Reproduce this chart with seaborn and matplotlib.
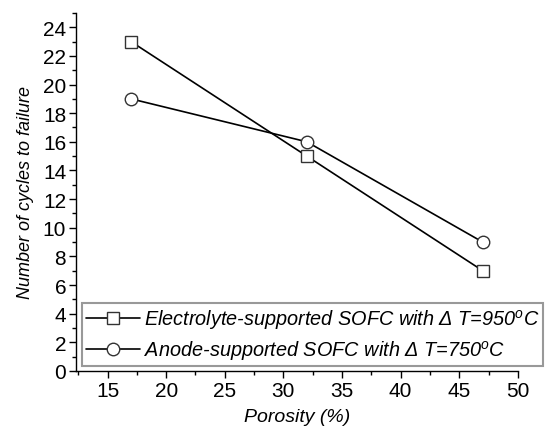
import matplotlib
matplotlib.use('Agg')
import matplotlib.pyplot as plt
import seaborn as sns
import pandas as pd
from matplotlib.ticker import MultipleLocator

sns.set_style('ticks')
plt.rcParams['font.family'] = ['Liberation Sans', 'DejaVu Sans']
plt.rcParams['mathtext.fontset'] = 'custom'
plt.rcParams['mathtext.it'] = 'Liberation Sans:italic'
plt.rcParams['mathtext.rm'] = 'Liberation Sans'
plt.rcParams['text.color'] = 'black'
plt.rcParams['axes.labelcolor'] = 'black'
plt.rcParams['xtick.color'] = 'black'
plt.rcParams['ytick.color'] = 'black'
plt.rcParams['axes.edgecolor'] = 'black'

# data
porosity = [17, 32, 47]
electrolyte_cycles = [23, 15, 7]
anode_cycles = [19, 16, 9]
series_names = ['Electrolyte-supported SOFC with \u0394 T=950$^{\\mathit{o}}$C',
                'Anode-supported SOFC with \u0394 T=750$^{\\mathit{o}}$C']

df = pd.DataFrame({
    'Porosity': porosity * 2,
    'Cycles': electrolyte_cycles + anode_cycles,
    'Series': [series_names[0]] * 3 + [series_names[1]] * 3,
})

fig = plt.figure(figsize=(5.58, 4.35), dpi=100)
ax = fig.add_axes([0.136, 0.145, 0.792, 0.823])

sns.lineplot(data=df, x='Porosity', y='Cycles', hue='Series', style='Series',
             markers=['s', 'o'], dashes=False, palette=['black', 'black'],
             markersize=9, markerfacecolor='white', markeredgecolor='#333333',
             markeredgewidth=1.0, linewidth=1.2, ax=ax)

ax.set_xlim(12.3, 50)
ax.set_ylim(0, 25)
ax.xaxis.set_minor_locator(MultipleLocator(2.5))
ax.yaxis.set_minor_locator(MultipleLocator(1))
ax.set_xticks(range(15, 51, 5))
ax.set_yticks(range(0, 25, 2))
ax.tick_params(which='major', length=5, width=1, labelsize=15, direction='out', pad=2)
ax.tick_params(which='minor', length=3, width=1, direction='out')
sns.despine(ax=ax)
for s in ['left', 'bottom']:
    ax.spines[s].set_linewidth(1.0)

ax.set_xlabel('Porosity (%)', fontsize=14, style='italic', labelpad=6)
ax.set_ylabel('Number of cycles to failure', fontsize=13, style='italic', labelpad=6)

leg = ax.legend(loc='lower left', bbox_to_anchor=(82 / 558, 68 / 435),
                bbox_transform=fig.transFigure, frameon=True, fancybox=False,
                edgecolor='gray', fontsize=14.3, handlelength=2.7,
                borderpad=0.2, labelspacing=0.35, handletextpad=0.2,
                borderaxespad=0)
leg.get_frame().set_linewidth(1.5)
for t in leg.get_texts():
    t.set_style('italic')

fig.savefig('out.png', dpi=100)
